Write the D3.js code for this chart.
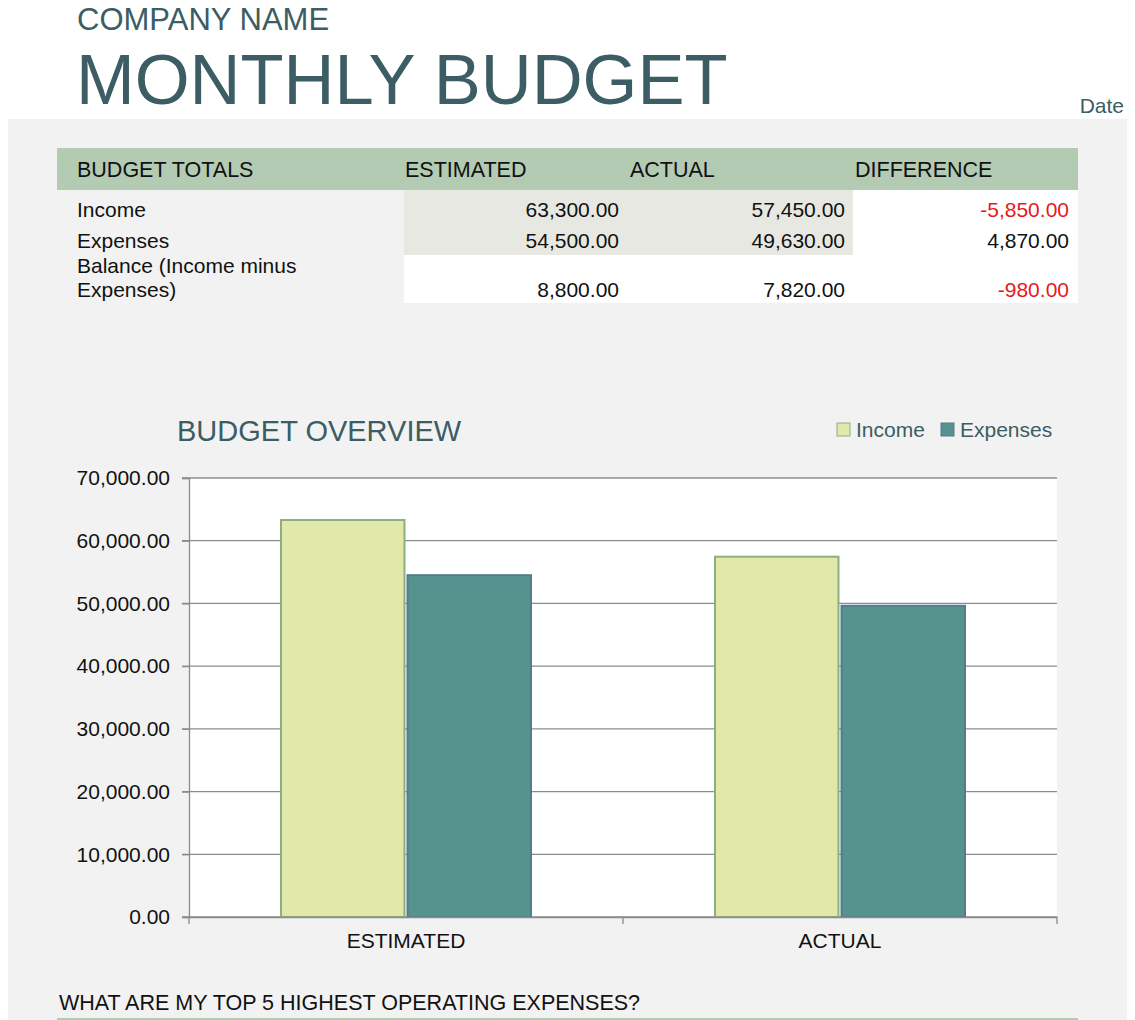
<!DOCTYPE html>
<html>
<head>
<meta charset="utf-8">
<script src="https://cdn.jsdelivr.net/npm/d3@7"></script>
<style>
  html, body { margin: 0; padding: 0; background: #ffffff; }
  svg { display: block; font-family: "Liberation Sans", Arial, sans-serif; }
</style>
</head>
<body>
<div id="container"></div>
<script>
// data
const categories = ["ESTIMATED", "ACTUAL"]
const seriesNames = ["Income", "Expenses"]
const incomeValues = [63300, 57450]
const expenseValues = [54500, 49630]
const rowLabels = [["Income"], ["Expenses"], ["Balance (Income minus", "Expenses)"]]
const estimatedCol = [63300, 54500, 8800]
const actualCol = [57450, 49630, 7820]
const differenceCol = [-5850, 4870, -980]
const yTicks = [0, 10000, 20000, 30000, 40000, 50000, 60000, 70000]

const titleColor = "#3b5d63"
const seriesColors = {Income: "#e1e8aa", Expenses: "#56938f"}
const seriesStroke = {Income: "#8fae80", Expenses: "#4f7d8c"}
const locale = d3.formatLocale({decimal: ".", thousands: ",", grouping: [3], currency: ["", ""], minus: "-"})
const fmt = locale.format(",.2f")

const container = d3.select("#container")
const svg = container.append("svg")
                     .attr("width", 1135)
                     .attr("height", 1020)

// page background
svg.append("rect")
   .attr("x", 8).attr("y", 119)
   .attr("width", 1119).attr("height", 901)
   .attr("fill", "#f2f2f2")

// heading
svg.append("text")
   .attr("x", 77).attr("y", 30)
   .attr("font-size", "31px")
   .attr("fill", titleColor)
   .text("COMPANY NAME")
svg.append("text")
   .attr("x", 76).attr("y", 104)
   .attr("font-size", "70.5px")
   .attr("fill", titleColor)
   .text("MONTHLY BUDGET")
svg.append("text")
   .attr("x", 1124).attr("y", 113)
   .attr("font-size", "21px")
   .attr("text-anchor", "end")
   .attr("fill", titleColor)
   .text("Date")

// budget totals table
const table = svg.append("g")
table.append("rect")
     .attr("x", 57).attr("y", 148)
     .attr("width", 1021).attr("height", 42)
     .attr("fill", "#b3cab3")
table.append("rect")
     .attr("x", 404).attr("y", 190)
     .attr("width", 449).attr("height", 65)
     .attr("fill", "#e8e8e2")
table.append("rect")
     .attr("x", 853).attr("y", 190)
     .attr("width", 225).attr("height", 65)
     .attr("fill", "#ffffff")
table.append("rect")
     .attr("x", 404).attr("y", 255)
     .attr("width", 674).attr("height", 48)
     .attr("fill", "#ffffff")

const headers = [["BUDGET TOTALS", 77], ["ESTIMATED", 405], ["ACTUAL", 630], ["DIFFERENCE", 855]]
table.selectAll(".hdr")
     .data(headers)
     .join("text")
     .attr("class", "hdr")
     .attr("x", d => d[1])
     .attr("y", 177)
     .attr("font-size", "21.5px")
     .attr("fill", "#111")
     .text(d => d[0])

const rowBaselines = [217, 248, 297]
rowLabels.forEach((lines, i) => {
    lines.forEach((line, j) => {
        table.append("text")
             .attr("x", 77)
             .attr("y", rowBaselines[i] - (lines.length - 1 - j) * 24)
             .attr("font-size", "21px")
             .attr("fill", "#111")
             .text(line)
    })
})
const cols = [[estimatedCol, 619], [actualCol, 845], [differenceCol, 1069]]
cols.forEach(([vals, xr]) => {
    table.selectAll(null)
         .data(vals)
         .join("text")
         .attr("x", xr)
         .attr("y", (d, i) => rowBaselines[i])
         .attr("font-size", "21px")
         .attr("text-anchor", "end")
         .attr("fill", d => d < 0 ? "#e8191c" : "#111")
         .text(d => fmt(d))
})

// chart
const plot = {left: 189, right: 1057, top: 478, bottom: 917}

svg.append("text")
   .attr("x", 177).attr("y", 441)
   .attr("font-size", "29px")
   .attr("fill", titleColor)
   .text("BUDGET OVERVIEW")

svg.append("rect")
   .attr("x", plot.left).attr("y", plot.top)
   .attr("width", plot.right - plot.left)
   .attr("height", plot.bottom - plot.top)
   .attr("fill", "#ffffff")

const xScale = d3.scaleBand()
                 .domain(categories)
                 .range([plot.left, plot.right])
const x1Scale = d3.scaleBand()
                  .domain(seriesNames)
                  .range([92, 342])
                  .paddingInner(0.024)
const yScale = d3.scaleLinear()
                 .domain([0, 70000])
                 .range([plot.bottom, plot.top])

// grid lines
svg.selectAll(".grid-line")
   .data(yTicks)
   .join("line")
   .attr("class", "grid-line")
   .attr("x1", plot.left - 7)
   .attr("x2", plot.right)
   .attr("y1", d => yScale(d))
   .attr("y2", d => yScale(d))
   .attr("stroke", "#8c8c8c")
   .attr("stroke-width", 1.3)

// y axis
const yAxis = d3.axisLeft(yScale)
                .tickValues(yTicks)
                .tickFormat(fmt)
                .tickSize(7)
                .tickPadding(12)
const yG = svg.append("g")
              .attr("transform", `translate(${plot.left}, 0)`)
              .call(yAxis)
yG.select(".domain").attr("stroke", "#8c8c8c").attr("stroke-width", 1.3)
yG.selectAll(".tick line").attr("stroke", "#8c8c8c").attr("stroke-width", 1.3)
yG.selectAll("text")
  .attr("font-size", "21px")
  .attr("font-family", "Liberation Sans, Arial, sans-serif")
  .attr("fill", "#111")

// bars
const barData = []
categories.forEach((c, i) => {
    barData.push({cat: c, series: "Income", value: incomeValues[i]})
    barData.push({cat: c, series: "Expenses", value: expenseValues[i]})
})
svg.selectAll(".bar")
   .data(barData)
   .join("rect")
   .attr("class", "bar")
   .attr("x", d => xScale(d.cat) + x1Scale(d.series))
   .attr("y", d => yScale(d.value))
   .attr("width", x1Scale.bandwidth())
   .attr("height", d => yScale(0) - yScale(d.value))
   .attr("fill", d => seriesColors[d.series])
   .attr("stroke", d => seriesStroke[d.series])
   .attr("stroke-width", 2)

// x axis
const xAxis = d3.axisBottom(xScale)
                .tickSize(0)
                .tickPadding(16)
const xG = svg.append("g")
              .attr("transform", `translate(0, ${plot.bottom})`)
              .call(xAxis)
xG.select(".domain").attr("stroke", "#8c8c8c").attr("stroke-width", 1.3)
xG.selectAll("text")
  .attr("font-size", "21px")
  .attr("font-family", "Liberation Sans, Arial, sans-serif")
  .attr("fill", "#111")
svg.selectAll(".x-tick")
   .data([plot.left, plot.left + xScale.step(), plot.right])
   .join("line")
   .attr("class", "x-tick")
   .attr("x1", d => d).attr("x2", d => d)
   .attr("y1", plot.bottom).attr("y2", plot.bottom + 7)
   .attr("stroke", "#8c8c8c")
   .attr("stroke-width", 1.3)

// legend
const legend = svg.append("g")
const legendX = [837, 941]
seriesNames.forEach((s, i) => {
    legend.append("rect")
          .attr("x", legendX[i]).attr("y", 423)
          .attr("width", 13).attr("height", 13)
          .attr("fill", seriesColors[s])
          .attr("stroke", seriesStroke[s])
          .attr("stroke-width", 1)
    legend.append("text")
          .attr("x", legendX[i] + 19).attr("y", 437)
          .attr("font-size", "21px")
          .attr("fill", titleColor)
          .text(s)
})

// next section heading
svg.append("text")
   .attr("x", 59).attr("y", 1010)
   .attr("font-size", "21.5px")
   .attr("fill", "#111")
   .text("WHAT ARE MY TOP 5 HIGHEST OPERATING EXPENSES?")
svg.append("rect")
   .attr("x", 57).attr("y", 1018)
   .attr("width", 1021).attr("height", 3)
   .attr("fill", "#b3cab3")
</script>
</body>
</html>
